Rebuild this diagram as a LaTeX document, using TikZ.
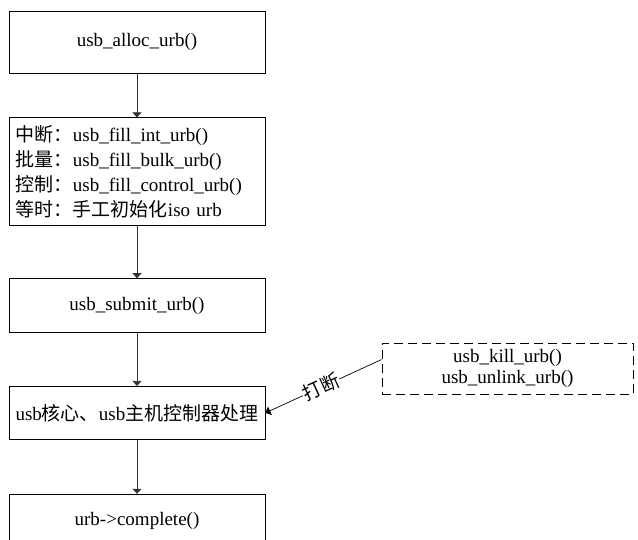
\documentclass[tikz,border=0pt]{standalone}
\usepackage{fontspec}
\setmainfont{Liberation Serif}
\newfontfamily\cjk{Noto Sans CJK SC}
\usetikzlibrary{arrows.meta, positioning}
\newcommand{\zh}[1]{{\cjk #1}}

\begin{document}
\begin{tikzpicture}[x=1pt, y=-1pt, font=\fontsize{19}{25}\selectfont,
  box/.style={draw, line width=0.8pt, minimum width=256pt, minimum height=62pt, inner sep=2pt, align=center},
  fl/.style={-{Triangle[length=5pt, width=9pt]}, line width=0.7pt, black!80}]
  \useasboundingbox (0,0) rectangle (638,540);
  \node[box] (alloc) at (137,42) {usb\_alloc\_urb()};
  \node[box, minimum height=108pt, text width=242pt, align=left, below=44pt of alloc] (fill) {\zh{中断：}usb\_fill\_int\_urb()\\ \zh{批量：}usb\_fill\_bulk\_urb()\\ \zh{控制：}usb\_fill\_control\_urb()\\ \zh{等时：手工初始化}iso urb};
  \node[box, minimum height=54pt, below=52pt of fill] (submit) {usb\_submit\_urb()};
  \node[box, minimum height=53pt, below=53pt of submit] (core) {usb\zh{核心、}usb\zh{主机控制器处理}};
  \node[box, minimum height=53pt, below=54pt of core] (done) {urb->complete()};
  \node[box, dashed, dash pattern=on 9pt off 5pt, minimum width=251pt, minimum height=51pt, font=\fontsize{19}{21}\selectfont] (kill) at (507.5,368.5) {usb\_kill\_urb()\\ usb\_unlink\_urb()};
  \foreach \a/\b in {alloc/fill, fill/submit, submit/core, core/done} \draw[fl] (\a) -- (\b);
  \draw[fl, black] ([yshift=9pt]kill.west) -- node[sloped, fill=white, inner sep=1pt, pos=0.52] {\zh{打断}} (core.east);
\end{tikzpicture}
\end{document}
